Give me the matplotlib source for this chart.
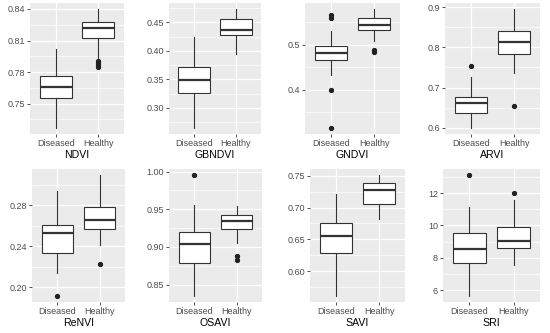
import matplotlib
matplotlib.use("Agg")
import matplotlib.pyplot as plt
from matplotlib.ticker import MultipleLocator, FormatStrFormatter

# ======================== Data ========================

groups = ["Diseased", "Healthy"]
indices = ["NDVI", "GBNDVI", "GNDVI", "ARVI", "ReNVI", "OSAVI", "SAVI", "SRI"]

# per index, per group: [whisker low, q1, median, q3, whisker high]
ndvi = [[0.7268, 0.7555, 0.7655, 0.7758, 0.8016], [0.7933, 0.8126, 0.8220, 0.8280, 0.8400]]
gbndvi = [[0.2647, 0.3265, 0.3482, 0.3719, 0.4250], [0.3953, 0.4276, 0.4371, 0.4559, 0.4735]]
gndvi = [[0.4334, 0.4660, 0.4811, 0.4964, 0.5305], [0.5077, 0.5327, 0.5432, 0.5584, 0.5795]]
arvi = [[0.5990, 0.6360, 0.6606, 0.6774, 0.7251], [0.7359, 0.7832, 0.8143, 0.8402, 0.8957]]
renvi = [[0.2137, 0.2339, 0.2532, 0.2609, 0.2942], [0.2417, 0.2569, 0.2663, 0.2783, 0.3097]]
osavi = [[0.8350, 0.8782, 0.9041, 0.9200, 0.9555], [0.9054, 0.9245, 0.9350, 0.9427, 0.9545]]
savi = [[0.5611, 0.6284, 0.6547, 0.6762, 0.7205], [0.6826, 0.7063, 0.7274, 0.7390, 0.7510]]
sri = [[5.64, 7.68, 8.53, 9.54, 11.12], [7.53, 8.60, 9.02, 9.90, 11.58]]

# outliers per index, per group
ndvi_out = [[], [0.7905, 0.7885, 0.7865, 0.7850]]
gbndvi_out = [[], []]
gndvi_out = [[0.5668, 0.5590, 0.4000, 0.3150], [0.4886, 0.4850]]
arvi_out = [[0.7527], [0.6548]]
renvi_out = [[0.1917], [0.2224]]
osavi_out = [[0.9955], [0.8880, 0.8826]]
savi_out = [[], []]
sri_out = [[13.12], [12.02]]

stats = [ndvi, gbndvi, gndvi, arvi, renvi, osavi, savi, sri]
outliers = [ndvi_out, gbndvi_out, gndvi_out, arvi_out, renvi_out, osavi_out, savi_out, sri_out]

# y tick spacing and label format per panel
tick_steps = [0.03, 0.05, 0.1, 0.1, 0.04, 0.05, 0.05, 2]
tick_fmts = ["%.2f", "%.2f", "%.1f", "%.1f", "%.2f", "%.2f", "%.2f", "%.0f"]

# ======================== Layout (pixels: left, right, top, bottom) ========================

W, H = 550, 333
panel_px = [
    (30, 124, 3, 134), (169, 261, 3, 134), (305, 400, 3, 134), (445, 540, 3, 134),
    (32, 125, 169, 302), (169, 262, 169, 302), (310, 405, 169, 302), (443, 540, 169, 302),
]

PANEL_BG = "#EBEBEB"
LINE = "#333333"
TICK_TXT = "#4D4D4D"

plt.rcParams["font.family"] = ["Liberation Sans", "DejaVu Sans"]

fig = plt.figure(figsize=(W / 100, H / 100), dpi=100)

for i, name in enumerate(indices):
    l, r, t, b = panel_px[i]
    ax = fig.add_axes([l / W, 1 - b / H, (r - l) / W, (b - t) / H])
    ax.set_facecolor(PANEL_BG)
    for s in ax.spines.values():
        s.set_visible(False)

    bxp_stats = []
    for g in range(2):
        lo, q1, med, q3, hi = stats[i][g]
        bxp_stats.append(dict(whislo=lo, q1=q1, med=med, q3=q3, whishi=hi,
                              fliers=outliers[i][g], label=groups[g]))

    ax.bxp(bxp_stats, positions=[1, 2], widths=0.75, showcaps=False, patch_artist=True,
           boxprops=dict(facecolor="white", edgecolor=LINE, linewidth=0.8),
           whiskerprops=dict(color=LINE, linewidth=0.8),
           medianprops=dict(color=LINE, linewidth=1.6),
           flierprops=dict(marker="o", markersize=2.8, markerfacecolor="#222222",
                           markeredgecolor="#222222", linestyle="none"),
           zorder=3)

    # ggplot-like 5% expansion of the data range
    vals = [v for g in range(2) for v in stats[i][g] + outliers[i][g]]
    lo, hi = min(vals), max(vals)
    pad = (hi - lo) * 0.05
    ax.set_ylim(lo - pad, hi + pad)
    ax.set_xlim(0.4, 2.6)

    ax.yaxis.set_major_locator(MultipleLocator(tick_steps[i]))
    ax.yaxis.set_minor_locator(MultipleLocator(tick_steps[i] / 2))
    ax.yaxis.set_major_formatter(FormatStrFormatter(tick_fmts[i]))
    ax.set_xticks([1, 2])
    ax.set_xticklabels(groups)

    ax.grid(True, which="major", color="white", linewidth=0.9, zorder=0)
    ax.grid(True, which="minor", axis="y", color="white", linewidth=0.45, zorder=0)
    ax.set_axisbelow(True)

    ax.tick_params(axis="both", which="major", length=2.2, width=0.6, color="#333333",
                   labelsize=6.5, labelcolor=TICK_TXT, pad=1.5)
    ax.tick_params(axis="y", which="minor", length=0)
    ax.set_xlabel(name, fontsize=7.6, color="black", labelpad=1.5)

fig.savefig("out.png", dpi=100)
